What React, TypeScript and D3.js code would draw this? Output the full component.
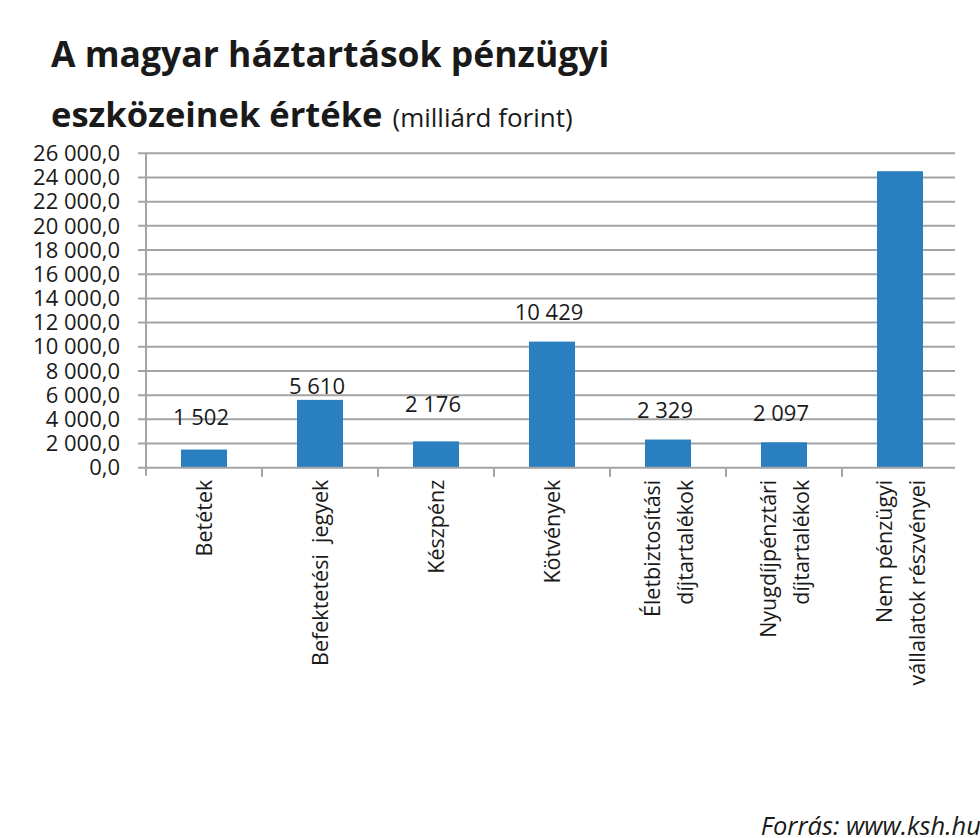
import React from "react";
import * as d3 from "d3";

const categories: string[][] = [
  ["Betétek"],
  ["Befektetési  jegyek"],
  ["Készpénz"],
  ["Kötvények"],
  ["Életbiztosítási", "díjtartalékok"],
  ["Nyugdíjpénztári", "díjtartalékok"],
  ["Nem pénzügyi", "vállalatok részvényei"],
];
const values: number[] = [1502, 5610, 2176, 10429, 2329, 2097, 24520];
const valueLabels: (string | null)[] = ["1 502", "5 610", "2 176", "10 429", "2 329", "2 097", null];
const yTicks: number[] = [0, 2000, 4000, 6000, 8000, 10000, 12000, 14000, 16000, 18000, 20000, 22000, 24000, 26000];
const yTickLabels: string[] = yTicks.map((t) => {
  const s = d3.format(",.1f")(t);
  return s.replace(/,/g, " ").replace(".", ",");
});
// pixel gaps between bar tops and their value labels (manual placement in source)
const labelGaps: number[] = [25, 6, 29, 22, 22, 21, 0];

const W = 980;
const H = 838;
const plotLeft = 146;
const plotRight = 958;
const plotTop = 153.3;
const plotBottom = 467.7;
const FONT = "'Open Sans', 'DejaVu Sans', sans-serif";

export default function App() {
  const y = d3.scaleLinear().domain([0, 26000]).range([plotBottom, plotTop]);
  const x = d3
    .scaleBand<number>()
    .domain(d3.range(categories.length))
    .range([plotLeft, plotRight])
    .paddingInner(0)
    .paddingOuter(0);
  const grid = "#a3a3a3";
  const bandW = x.bandwidth();
  const barW = 46;

  return (
    <svg
      width={W}
      height={H}
      viewBox={`0 0 ${W} ${H}`}
      style={{ position: "absolute", left: 0, top: 0, background: "#fff" }}
    >
      <rect width={W} height={H} fill="#fff" />
      {/* Title */}
      <text x={51} y={67} fontFamily={FONT} fontWeight={700} fontSize={35.5} fill="#1a1a1a">
        A magyar háztartások pénzügyi
      </text>
      <text x={51} y={127} fontFamily={FONT} fill="#1a1a1a">
        <tspan fontWeight={700} fontSize={34.5}>eszközeinek értéke</tspan>
        <tspan fontSize={26} dx={10}>(milliárd forint)</tspan>
      </text>

      {/* Gridlines */}
      {yTicks.map((t, i) =>
        t === 0 ? null : (
          <line
            key={"g" + i}
            x1={plotLeft - 8}
            x2={plotRight - 3}
            y1={y(t)}
            y2={y(t)}
            stroke={grid}
            strokeWidth={2}
          />
        )
      )}
      {/* Y tick labels */}
      {yTicks.map((t, i) => (
        <text
          key={"yl" + i}
          x={120}
          y={y(t)}
          dy="0.35em"
          textAnchor="end"
          fontFamily={FONT}
          fontSize={22}
          fill="#1a1a1a"
        >
          {yTickLabels[i]}
        </text>
      ))}

      {/* Bars */}
      {values.map((v, i) => (
        <rect
          key={"b" + i}
          x={(x(i) as number) + (bandW - barW) / 2}
          y={y(v)}
          width={barW}
          height={plotBottom - y(v)}
          fill="#2a7fc1"
        />
      ))}

      {/* Axes */}
      <line x1={plotLeft} x2={plotLeft} y1={plotTop} y2={plotBottom + 8} stroke={grid} strokeWidth={2} />
      <line x1={plotLeft - 8} x2={plotRight - 3} y1={plotBottom} y2={plotBottom} stroke={grid} strokeWidth={2} />
      {d3.range(1, categories.length).map((i) => (
        <line
          key={"t" + i}
          x1={x(i) as number}
          x2={x(i) as number}
          y1={plotBottom}
          y2={plotBottom + 9}
          stroke={grid}
          strokeWidth={2}
        />
      ))}

      {/* Value labels */}
      {values.map((v, i) =>
        valueLabels[i] ? (
          <text
            key={"vl" + i}
            x={(x(i) as number) + bandW / 2 - 3}
            y={y(v) - labelGaps[i]}
            textAnchor="middle"
            fontFamily={FONT}
            fontSize={22}
            fill="#1a1a1a"
          >
            {valueLabels[i]}
          </text>
        ) : null
      )}

      {/* Category labels */}
      {categories.map((lines, i) => {
        const cx = (x(i) as number) + bandW / 2 + 1;
        const lh = 33;
        return lines.map((ln, j) => {
          const offset = (j - (lines.length - 1) / 2) * lh;
          const px = cx + offset + 7;
          return (
            <text
              key={"c" + i + "-" + j}
              transform={`translate(${px},${plotBottom + 12}) rotate(-90)`}
              textAnchor="end"
              fontFamily={FONT}
              fontSize={21.5}
              fill="#1a1a1a"
              style={{ whiteSpace: "pre" }}
            >
              {ln}
            </text>
          );
        });
      })}

      {/* Source */}
      <text
        x={981}
        y={835}
        textAnchor="end"
        fontFamily={FONT}
        fontStyle="italic"
        fontSize={25.5}
        fill="#1a1a1a"
      >
        Forrás: www.ksh.hu
      </text>
    </svg>
  );
}
